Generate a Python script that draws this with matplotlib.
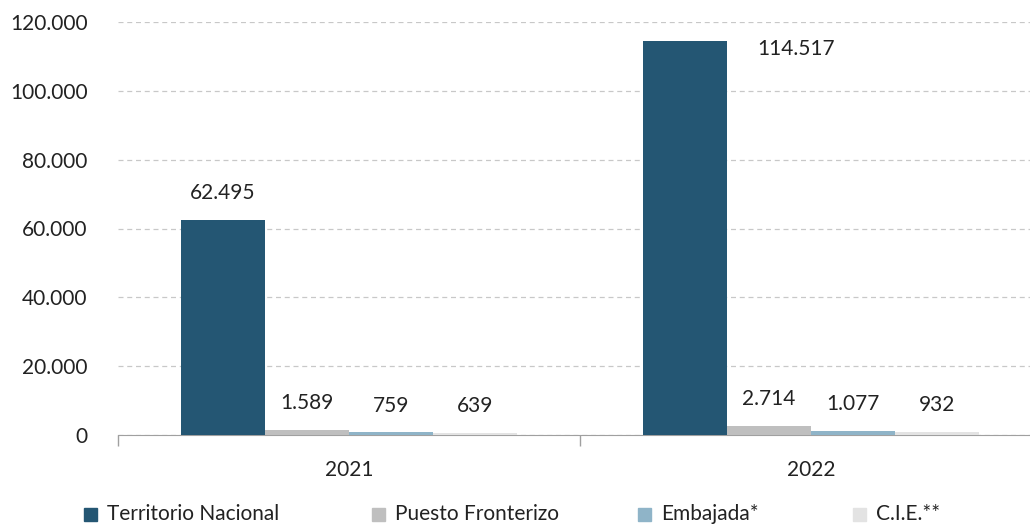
import numpy as np
import matplotlib.pyplot as plt
from matplotlib.patches import Rectangle

plt.rcParams['font.family'] = ['Lato', 'DejaVu Sans']

years = ['2021', '2022']
series = ['Territorio Nacional', 'Puesto Fronterizo', 'Embajada*', 'C.I.E.**']
values = [
    [62495, 114517],
    [1589, 2714],
    [759, 1077],
    [639, 932],
]
labels = [
    ['62.495', '114.517'],
    ['1.589', '2.714'],
    ['759', '1.077'],
    ['639', '932'],
]
colors = ['#245673', '#bfbfbf', '#8fb4c8', '#e3e3e3']

W, H = 1030, 528
fig = plt.figure(figsize=(W / 100, H / 100), dpi=100)
ax = fig.add_axes([118 / W, 93 / H, (1042 - 118) / W, 413 / H])

x = np.arange(len(years))
w = 0.182
for i, (name, vals) in enumerate(zip(series, values)):
    pos = x + (i - 1.5) * w
    ax.bar(pos, vals, width=w, color=colors[i], label=name, zorder=3)
    for j, (p, v) in enumerate(zip(pos, vals)):
        txt = labels[i][j]
        if v > 100000:
            # label sits beside the tall bar
            ax.text(p + 1.32 * w, v - 2500, txt, ha='center', va='center', fontsize=15, color='#222222')
        else:
            ax.text(p, v + 7800, txt, ha='center', va='center', fontsize=15, color='#222222')

ax.set_xlim(-0.5, 1.5)
ax.set_ylim(0, 120000)
ax.set_yticks(np.arange(0, 120001, 20000))
ax.set_yticklabels([f'{int(t):,}'.replace(',', '.') for t in ax.get_yticks()])
ax.yaxis.grid(True, linestyle=(0, (4, 3)), color='#c8c8c8', linewidth=0.9, zorder=0)
ax.set_axisbelow(True)
ax.tick_params(axis='y', length=0, labelsize=15, pad=22, labelcolor='#222222')

ax.set_xticks([-0.5, 0.5, 1.5])
ax.set_xticklabels([])
ax.set_xticks(x, minor=True)
ax.set_xticklabels(years, minor=True)
ax.tick_params(axis='x', which='major', length=8, color='#a0a0a0', width=1)
ax.tick_params(axis='x', which='minor', length=0, labelsize=15, pad=18, labelcolor='#222222')

for s in ['top', 'right', 'left']:
    ax.spines[s].set_visible(False)
ax.spines['bottom'].set_color('#a0a0a0')

# legend laid out by hand to match the spacing of the original
leg_x = [84, 372, 638, 853]
leg_y = 514
sq = 13
for lx, c, name in zip(leg_x, colors, series):
    fig.add_artist(Rectangle((lx / W, (H - leg_y - sq / 2) / H), sq / W, sq / H,
                             transform=fig.transFigure, color=c))
    fig.text((lx + sq + 10) / W, (H - leg_y) / H, name, ha='left', va='center',
             fontsize=15, color='#222222')

fig.savefig('out.png', dpi=100)
